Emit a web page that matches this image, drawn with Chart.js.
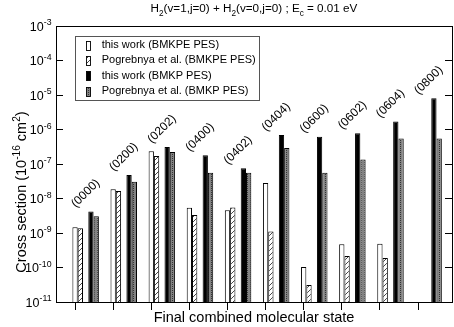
<!DOCTYPE html>
<html><head><meta charset="utf-8">
<script src="https://cdn.jsdelivr.net/npm/chart.js@4.4.1/dist/chart.umd.min.js"></script>
<style>html,body{margin:0;padding:0;background:#fff}canvas{display:block}</style>
</head><body>
<canvas id="c" width="454" height="327"></canvas>
<script>
// ---- data ----
const categories = ['(0000)','(0200)','(0202)','(0400)','(0402)','(0404)','(0600)','(0602)','(0604)','(0800)'];
const thisWorkBMKPE  = [1.46e-9, 1.85e-8, 2.33e-7, 5.4e-9, 4.6e-9, 2.8e-8, 1.03e-10, 4.7e-10, 4.9e-10, null];
const pogrebnyaBMKPE = [1.37e-9, 1.65e-8, 1.7e-7, 3.3e-9, 5.5e-9, 1.1e-9, 3.1e-11, 2.15e-10, 1.9e-10, null];
const thisWorkBMKP   = [4.2e-9, 4.8e-8, 3.1e-7, 1.78e-7, 7.5e-8, 6.9e-7, 6.2e-7, 7.8e-7, 1.7e-6, 8.0e-6];
const pogrebnyaBMKP  = [3.04e-9, 3.07e-8, 2.23e-7, 5.6e-8, 5.6e-8, 2.9e-7, 5.6e-8, 1.36e-7, 5.5e-7, 5.5e-7];
const seriesLabels = ['this work (BMKPE PES)','Pogrebnya et al. (BMKPE PES)','this work (BMKP PES)','Pogrebnya et al. (BMKP PES)'];
const yTickExponents = [-3,-4,-5,-6,-7,-8,-9,-10,-11];
const xTitle = 'Final combined molecular state';
const titleRuns = [['H',0],['2',1],['(v=1,j=0) + H',0],['2',1],['(v=0,j=0) ; E',0],['c',1],[' = 0.01 eV',0]];
const yTitleRuns = [['Cross section (10',0],['-16',2],[' cm',0],['2',2],[')',0]];

// ---- styling ----
const FONT = '"Liberation Sans", Arial, Helvetica, sans-serif';
Chart.defaults.font.family = FONT;
Chart.defaults.color = '#000';
const canvas = document.getElementById('c');
const mainCtx = canvas.getContext('2d');
function makePattern(w, h, draw) {
  const c = document.createElement('canvas'); c.width = w; c.height = h;
  const g = c.getContext('2d'); draw(g);
  return mainCtx.createPattern(c, 'repeat');
}
const hatch = makePattern(5, 5, g => {
  g.fillStyle = '#fff'; g.fillRect(0, 0, 5, 5);
  g.strokeStyle = '#333'; g.lineWidth = 0.9; g.beginPath();
  g.moveTo(0, 5); g.lineTo(5, 0); g.moveTo(-1, 1); g.lineTo(1, -1); g.moveTo(4, 6); g.lineTo(6, 4);
  g.stroke();
});
const dots = makePattern(3, 2, g => {
  g.fillStyle = '#828282'; g.fillRect(0, 0, 3, 2);
  g.fillStyle = '#333'; g.fillRect(1, 0, 1, 1);
});
const CAT_PCT = 0.695;       // group width as fraction of category spacing
const TICK_SHIFT = 0.4 * CAT_PCT; // axis tick sits under the first bar of a 5-slot group

const toPoints = arr => arr.map((v, i) => ({x: i, y: v})).filter(p => p.y !== null);
const barCommon = {borderColor: '#000', borderWidth: 1, categoryPercentage: CAT_PCT, barPercentage: 1};

function drawRuns(ctx, runs, x, y, size, align) {
  const small = size * 0.7;
  const widths = runs.map(([t, k]) => { ctx.font = (k ? small : size) + 'px ' + FONT; return ctx.measureText(t).width; });
  const total = widths.reduce((a, b) => a + b, 0);
  let cx = align === 'center' ? x - total / 2 : align === 'right' ? x - total : x;
  ctx.textAlign = 'left'; ctx.textBaseline = 'alphabetic';
  runs.forEach(([t, k], i) => {
    ctx.font = (k ? small : size) + 'px ' + FONT;
    const dy = k === 1 ? size * 0.32 : k === 2 ? -size * 0.42 : 0;
    ctx.fillText(t, cx, y + dy);
    cx += widths[i];
  });
}

const deco = {
  id: 'deco',
  afterDraw(chart) {
    const {ctx, chartArea: a, scales: {x, y}} = chart;
    ctx.save();
    ctx.fillStyle = '#000';
    // title
    drawRuns(ctx, titleRuns, (a.left + a.right) / 2, 12, 11.7, 'center');
    // y tick labels
    yTickExponents.forEach(e => {
      const py = y.getPixelForValue(Math.pow(10, e));
      drawRuns(ctx, [['10', 0], [String(e), 2]], a.left - 4.5, py + 4.5, 12.5, 'right');
    });
    // y title
    ctx.save(); ctx.translate(26, a.top + 166); ctx.rotate(-Math.PI / 2);
    drawRuns(ctx, yTitleRuns, 0, 0, 14.5, 'center'); ctx.restore();
    // category labels above each group
    ctx.font = '12px ' + FONT; ctx.textAlign = 'center'; ctx.textBaseline = 'middle';
    categories.forEach((c, i) => {
      const vals = [thisWorkBMKPE[i], pogrebnyaBMKPE[i], thisWorkBMKP[i], pogrebnyaBMKP[i]].filter(v => v !== null);
      const top = y.getPixelForValue(Math.max(...vals));
      ctx.save(); ctx.translate(x.getPixelForValue(i), top - 18); ctx.rotate(-Math.PI / 4);
      ctx.fillText(c, 0, 0); ctx.restore();
    });
    // legend
    const lx = a.left + 19.5, ly = a.top + 10.5, lw = 184, lh = 64;
    ctx.fillStyle = '#fff'; ctx.fillRect(lx, ly, lw, lh);
    ctx.strokeStyle = '#555'; ctx.lineWidth = 1; ctx.strokeRect(lx, ly, lw, lh);
    const items = chart.data.datasets.filter(d => d.label);
    ctx.font = '11px ' + FONT; ctx.textAlign = 'left'; ctx.textBaseline = 'middle';
    items.forEach((d, k) => {
      const cy = ly + 8.5 + k * 15.4;
      ctx.fillStyle = d.backgroundColor; ctx.fillRect(lx + 11, Math.round(cy - 4.5) + 0.5, 4, 9);
      ctx.strokeStyle = '#000'; ctx.lineWidth = 0.9; ctx.strokeRect(lx + 11, Math.round(cy - 4.5) + 0.5, 4, 9);
      ctx.fillStyle = '#000'; ctx.fillText(d.label, lx + 26.2, cy);
    });
    ctx.restore();
  }
};

const tickGrid = (len) => ({display: true, drawOnChartArea: false, drawTicks: true, tickLength: len, color: '#000', lineWidth: 1, offset: false});

new Chart(canvas, {
  type: 'bar',
  data: {
    datasets: [
      {label: seriesLabels[0], data: toPoints(thisWorkBMKPE), backgroundColor: '#fff', ...barCommon},
      {label: seriesLabels[1], data: toPoints(pogrebnyaBMKPE), backgroundColor: hatch, ...barCommon},
      {label: '', data: [], backgroundColor: 'rgba(0,0,0,0)', ...barCommon, borderWidth: 0},
      {label: seriesLabels[2], data: toPoints(thisWorkBMKP), backgroundColor: '#000', ...barCommon},
      {label: seriesLabels[3], data: toPoints(pogrebnyaBMKP), backgroundColor: dots, ...barCommon}
    ]
  },
  options: {
    responsive: false, animation: false, devicePixelRatio: 1,
    layout: {padding: {left: 0, right: 2, top: 26, bottom: 0}},
    plugins: {legend: {display: false}, tooltip: {enabled: false}},
    scales: {
      x: {
        type: 'linear', position: 'bottom', offset: false,
        min: -0.5 - TICK_SHIFT, max: 9.892 - TICK_SHIFT,
        grid: tickGrid(8), border: {display: true, color: '#000', width: 1},
        ticks: {display: false},
        afterBuildTicks: s => { s.ticks = categories.map((c, i) => ({value: i - TICK_SHIFT})); },
        afterFit: s => { s.height = 25; },
        title: {display: true, text: xTitle, font: {size: 14.5}, color: '#000', padding: {top: 0, bottom: 0}}
      },
      xTop: {
        type: 'linear', position: 'top', min: 0, max: 1,
        grid: {display: false}, border: {display: true, color: '#000', width: 1},
        ticks: {display: false}, afterFit: s => { s.height = 0; }
      },
      y: {
        type: 'logarithmic', position: 'left', min: 1e-11, max: 1e-3,
        grid: tickGrid(-7), border: {display: true, color: '#000', width: 1},
        ticks: {display: false},
        afterBuildTicks: s => { s.ticks = yTickExponents.map(e => ({value: Math.pow(10, e)})); },
        afterFit: s => { s.width = 56; }
      },
      yRight: {
        type: 'logarithmic', position: 'right', min: 1e-11, max: 1e-3,
        grid: tickGrid(-7), border: {display: true, color: '#000', width: 1},
        ticks: {display: false},
        afterBuildTicks: s => { s.ticks = yTickExponents.map(e => ({value: Math.pow(10, e)})); },
        afterFit: s => { s.width = 0; }
      }
    }
  },
  plugins: [deco]
});
</script>
</body></html>
